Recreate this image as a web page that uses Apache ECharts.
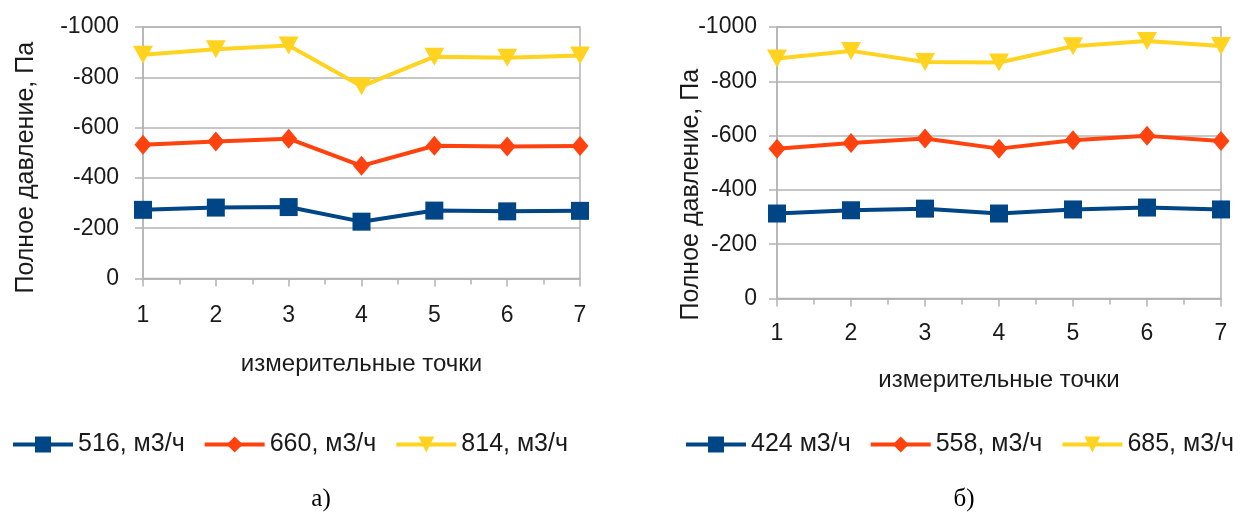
<!DOCTYPE html>
<html><head><meta charset="utf-8">
<script src="https://cdn.jsdelivr.net/npm/echarts@6/dist/echarts.min.js"></script>
<style>html,body{margin:0;padding:0;background:#fff}#c{width:1242px;height:516px}</style>
</head><body><div id="c"></div>
<script>
// measurement points
const points = [1, 2, 3, 4, 5, 6, 7];
// chart а)
const namesA = ['516, м3/ч', '660, м3/ч', '814, м3/ч'];
const a516 = [-273, -282, -284, -226, -270, -267, -269];
const a660 = [-532, -545, -556, -448, -528, -525, -527];
const a814 = [-890, -912, -926, -764, -882, -878, -887];
// chart б)
const namesB = ['424 м3/ч', '558, м3/ч', '685, м3/ч'];
const b424 = [-313, -325, -331, -313, -328, -335, -328];
const b558 = [-552, -573, -589, -552, -583, -599, -580];
const b685 = [-884, -912, -871, -869, -929, -948, -930];

const yName = 'Полное давление, Па';
const xName = 'измерительные точки';
const captions = ['а)', 'б)'];

const FONT = 'Liberation Sans';
const TXT = '#1a1a1a';
const GRID = '#b3b3b3';
const colors = ['#004586', '#ff420e', '#ffd320'];
const symbols = ['rect', 'diamond', 'path://M0,0 L10,0 L5,10 Z'];

function pairs(vals) { return points.map((p, i) => [p, vals[i]]); }

function xAxis(gi, margin, gap) {
  return {
    type: 'value', gridIndex: gi, min: 1, max: 7, interval: 1,
    name: xName, nameLocation: 'middle', nameGap: gap, nameMoveOverlap: false,
    nameTextStyle: { fontFamily: FONT, fontSize: 24, color: TXT },
    axisLine: { show: true, lineStyle: { color: GRID, width: 1.5 } },
    axisTick: { show: true, length: 8, lineStyle: { color: GRID, width: 1.5 } },
    minorTick: { show: true, splitNumber: 2, length: 6, lineStyle: { color: GRID, width: 1.5 } },
    axisLabel: { fontFamily: FONT, fontSize: 23, color: TXT, margin: margin },
    splitLine: { show: false }
  };
}
function yAxis(gi, margin, gap, pad) {
  return {
    type: 'value', gridIndex: gi, inverse: true, min: -1000, max: 0, interval: 200,
    name: yName, nameLocation: 'middle', nameGap: gap, nameMoveOverlap: false,
    nameTextStyle: { fontFamily: FONT, fontSize: 25, color: TXT, padding: pad },
    axisLine: { show: true, lineStyle: { color: GRID, width: 1.5 } },
    axisTick: { show: true, length: 8, lineStyle: { color: GRID, width: 1.5 } },
    axisLabel: { fontFamily: FONT, fontSize: 23, color: TXT, margin: margin, formatter: v => String(v) },
    splitLine: { show: true, lineStyle: { color: GRID, width: 1.5 } }
  };
}
function mk(name, vals, k, gi) {
  return {
    type: 'line', name: name, xAxisIndex: gi, yAxisIndex: gi,
    data: pairs(vals), symbol: symbols[k], symbolSize: k === 0 ? 18 : (k === 1 ? [17, 20] : [20, 18]),
    showAllSymbol: true,
    lineStyle: { color: colors[k], width: 4 },
    itemStyle: { color: colors[k] },
    animation: false
  };
}
function legend(names, left) {
  return {
    data: names, left: left, top: 427, width: 620, orient: 'horizontal',
    itemWidth: 60, itemHeight: 20, itemGap: 18,
    lineStyle: { width: 4 },
    textStyle: { fontFamily: FONT, fontSize: 25, color: TXT }
  };
}

const chart = echarts.init(document.getElementById('c'), null, { renderer: 'canvas' });
chart.setOption({
  animation: false,
  backgroundColor: '#ffffff',
  grid: [
    { left: 143, top: 27, width: 437, height: 251.5, show: true, borderColor: GRID, borderWidth: 1.5 },
    { left: 777, top: 27, width: 444, height: 271.5, show: true, borderColor: GRID, borderWidth: 1.5 }
  ],
  xAxis: [xAxis(0, 26, 74), xAxis(1, 24, 70)],
  yAxis: [yAxis(0, 24, 104, [0, 30, 0, 0]), yAxis(1, 20, 73, [0, 64, 0, 0])],
  legend: [legend(namesA, 6), legend(namesB, 679)],
  series: [
    mk(namesA[0], a516, 0, 0), mk(namesA[1], a660, 1, 0), mk(namesA[2], a814, 2, 0),
    mk(namesB[0], b424, 0, 1), mk(namesB[1], b558, 1, 1), mk(namesB[2], b685, 2, 1)
  ],
  graphic: [
    { type: 'text', x: 321, y: 499, style: { text: captions[0], font: '25px "Liberation Serif"', fill: '#000', align: 'center', verticalAlign: 'middle' } },
    { type: 'text', x: 964, y: 499, style: { text: captions[1], font: '25px "Liberation Serif"', fill: '#000', align: 'center', verticalAlign: 'middle' } }
  ]
});
</script></body></html>
